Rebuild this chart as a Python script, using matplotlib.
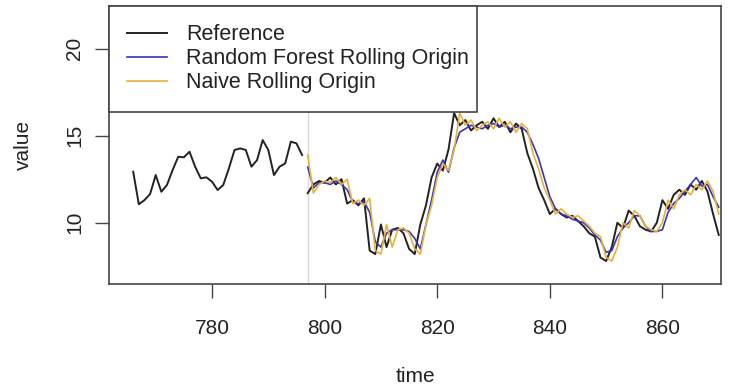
import matplotlib
matplotlib.use("Agg")
import matplotlib.pyplot as plt

plt.rcParams['font.family'] = ['Liberation Sans', 'DejaVu Sans']

# history (train) part of the reference series
hist_time = list(range(766, 797))
hist_vals = [12.93, 11.06, 11.30, 11.65, 12.74, 11.78, 12.17, 13.03, 13.79, 13.76,
             14.08, 13.22, 12.55, 12.61, 12.36, 11.88, 12.17, 13.13, 14.18, 14.27,
             14.18, 13.22, 13.60, 14.75, 14.18, 12.74, 13.22, 13.41, 14.66, 14.56,
             13.89]

# test part
test_time = list(range(797, 871))
test_vals = [11.7, 12.2, 12.4, 12.3, 12.6, 12.2, 12.5, 11.1, 11.3, 11.0,
             11.4, 8.4, 8.2, 9.9, 8.6, 9.6, 9.7, 9.4, 8.5, 8.2,
             9.9, 11.0, 12.6, 13.4, 13.0, 14.2, 16.3, 15.6, 15.9, 15.3,
             15.6, 15.8, 15.4, 16.0, 15.5, 15.8, 15.2, 15.7, 15.4, 14.0,
             13.1, 12.0, 11.3, 10.5, 10.8, 10.5, 10.3, 10.4, 10.1, 9.8,
             9.4, 9.2, 8.0, 7.8, 8.6, 10.0, 9.7, 10.7, 10.4, 9.8,
             9.6, 9.5, 10.0, 11.3, 10.8, 11.6, 11.9, 11.6, 12.2, 11.9,
             12.4, 11.8, 10.5, 9.3]

rf_vals = [13.2, 12.0, 12.3, 12.3, 12.2, 12.4, 12.2, 11.9, 11.2, 11.1,
           11.2, 10.6, 8.9, 8.6, 9.4, 9.6, 9.6, 9.6, 9.5, 9.1,
           8.5, 9.9, 11.3, 12.9, 13.6, 12.9, 14.3, 15.2, 15.4, 15.6,
           15.5, 15.4, 15.6, 15.7, 15.5, 15.6, 15.4, 15.5, 15.5, 15.2,
           14.5, 13.7, 12.6, 11.5, 10.8, 10.5, 10.4, 10.2, 10.1, 10.0,
           9.7, 9.3, 9.0, 8.3, 8.4, 9.2, 9.7, 10.0, 10.4, 10.4,
           9.8, 9.5, 9.5, 9.6, 10.6, 11.1, 11.4, 11.8, 12.2, 12.6,
           12.1, 12.2, 11.5, 10.9]

naive_vals = [13.89, 11.7, 12.2, 12.4, 12.3, 12.6, 12.2, 12.5, 11.1, 11.3,
              11.0, 11.4, 8.4, 8.2, 9.9, 8.6, 9.6, 9.7, 9.4, 8.5,
              8.2, 9.9, 11.0, 12.6, 13.4, 13.0, 14.2, 16.3, 15.6, 15.9,
              15.3, 15.6, 15.8, 15.4, 16.0, 15.5, 15.8, 15.2, 15.7, 15.4,
              14.0, 13.1, 12.0, 11.3, 10.5, 10.8, 10.5, 10.3, 10.4, 10.1,
              9.8, 9.4, 9.2, 8.0, 7.8, 8.6, 10.0, 9.7, 10.7, 10.4,
              9.8, 9.6, 9.5, 10.0, 11.3, 10.8, 11.6, 11.9, 11.6, 12.2,
              11.9, 12.4, 11.8, 10.5]

split_time = 797
xticks = [780, 800, 820, 840, 860]
yticks = [10, 15, 20]

fs = 15

fig = plt.figure(figsize=(7.29, 3.87), dpi=100)
ax = fig.add_axes([0.1495, 0.2661, 0.8395, 0.7183])

ax.axvline(split_time, color="#d8d8d8", lw=1)
ax.plot(hist_time, hist_vals, color="#222222", lw=1.4)
ax.plot(test_time, test_vals, color="#222222", lw=1.4, label="Reference")
ax.plot(test_time, rf_vals, color="#3535c0", lw=1.2, label="Random Forest Rolling Origin")
ax.plot(test_time, naive_vals, color="#eab038", lw=1.2, label="Naive Rolling Origin")

ax.set_xlim(761.7, 870.4)
ax.set_ylim(6.48, 22.45)
ax.set_xticks(xticks)
ax.set_yticks(yticks)
ax.tick_params(axis="both", direction="out", length=10, width=1, color="#444444",
               labelsize=fs, labelcolor="#222222")
ax.tick_params(axis="x", pad=15)
ax.tick_params(axis="y", pad=8)
for lab in ax.get_yticklabels():
    lab.set_rotation(90)
    lab.set_va("center")
for s in ax.spines.values():
    s.set_color("#444444")
    s.set_linewidth(1.2)

ax.set_xlabel("time", fontsize=fs, color="#222222")
ax.set_ylabel("value", fontsize=fs, color="#222222")
ax.xaxis.set_label_coords(0.5, -0.333)
ax.xaxis.label.set_va("center")
ax.yaxis.set_label_coords(-0.14, 0.5)
ax.yaxis.label.set_va("center")

leg = ax.legend(loc="upper left", bbox_to_anchor=(0, 1, 368 / 612, 0), mode="expand",
                borderaxespad=0, fancybox=False, framealpha=1, edgecolor="#444444",
                prop={"size": 15.5}, handlelength=1.85, handletextpad=0.9,
                borderpad=0.85, labelspacing=0.14)
leg.get_frame().set_linewidth(1.2)
for t in leg.get_texts():
    t.set_color("#222222")

fig.savefig("out.png", dpi=100)
